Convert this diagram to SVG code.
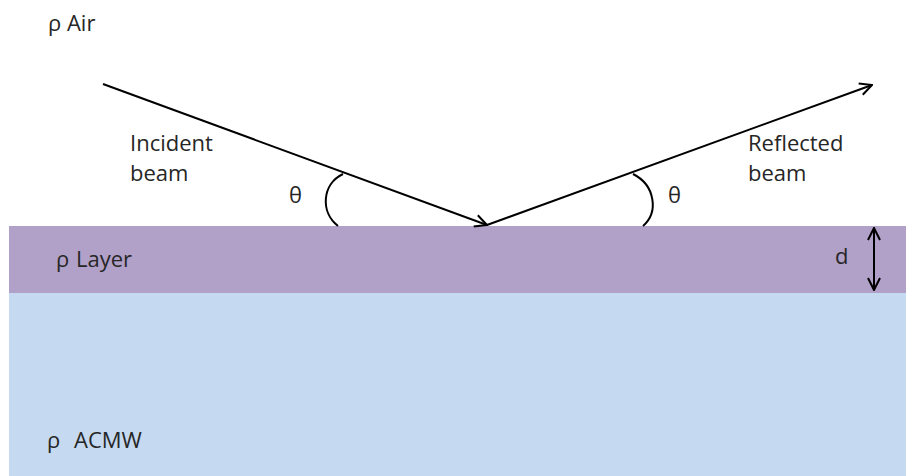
<svg xmlns="http://www.w3.org/2000/svg" width="906" height="476" viewBox="0 0 906 476">
  <style>
    text { font-family: "Open Sans", "Liberation Sans", sans-serif; font-size: 22px; fill: #262626; }
    .ln { fill: none; stroke: #000; stroke-width: 2; }
  </style>
  <defs>
    <marker id="arr" viewBox="0 0 14 14" refX="13" refY="7" markerWidth="14" markerHeight="14" markerUnits="userSpaceOnUse" orient="auto-start-reverse">
      <path d="M1,1 L13,7 L1,13" fill="none" stroke="#000" stroke-width="2"/>
    </marker>
  </defs>
  <rect x="0" y="0" width="906" height="476" fill="#fff"/>
  <g id="layer">
    <rect x="9" y="226" width="897" height="67" fill="#B1A0C7"/>
    <text x="56" y="267">ρ<tspan x="76">Layer</tspan></text>
  </g>
  <g id="acmw">
    <rect x="9" y="293" width="897" height="183" fill="#C5D9F1"/>
    <text x="47" y="448">ρ<tspan x="74">ACMW</tspan></text>
  </g>
  <g id="air">
    <text x="48" y="31">ρ Air</text>
  </g>
  <g id="labels">
    <text x="130" y="151">Incident</text>
    <text x="130" y="181">beam</text>
    <text x="748" y="151">Reflected</text>
    <text x="748" y="181">beam</text>
    <text x="289" y="203">θ</text>
    <text x="668" y="203">θ</text>
    <text x="835" y="264">d</text>
  </g>
  <g id="connectors">
    <line class="ln" x1="103" y1="84" x2="487" y2="225" marker-end="url(#arr)"/>
    <line class="ln" x1="487" y1="225" x2="872" y2="85" marker-end="url(#arr)"/>
    <path class="ln" d="M343,174 C322,184 320,212 338,226"/>
    <path class="ln" d="M633,174 C655,185 659,212 643,226"/>
    <line class="ln" x1="874" y1="228" x2="874" y2="290" marker-start="url(#arr)" marker-end="url(#arr)"/>
  </g>
</svg>
